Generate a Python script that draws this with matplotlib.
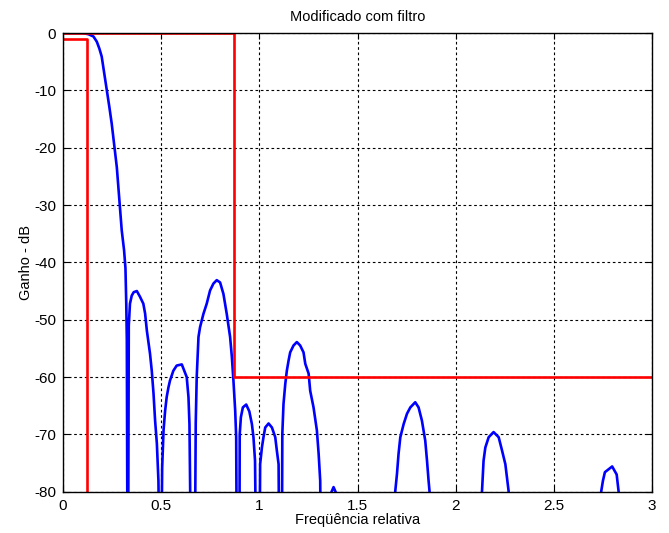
import matplotlib
matplotlib.use('Agg')
import matplotlib.pyplot as plt

# Resposta do filtro (dB); -100 = abaixo da escala
freq = [0.0, 0.05, 0.10, 0.129, 0.155, 0.172, 0.185, 0.197, 0.209, 0.223,
        0.236, 0.248, 0.260, 0.274, 0.287, 0.299, 0.311, 0.318, 0.322, 0.325,
        0.329, 0.331, 0.335, 0.341, 0.350, 0.360, 0.376, 0.392, 0.409, 0.418,
        0.427, 0.443, 0.452, 0.461, 0.469, 0.478, 0.486, 0.494, 0.499, 0.505,
        0.512, 0.520, 0.528, 0.537, 0.545, 0.562, 0.579, 0.605, 0.613, 0.630,
        0.639, 0.644, 0.654, 0.670, 0.676, 0.681, 0.690, 0.698, 0.715, 0.732,
        0.749, 0.766, 0.783, 0.800, 0.817, 0.834, 0.851, 0.860, 0.868, 0.877,
        0.882, 0.886, 0.898, 0.900, 0.906, 0.916, 0.933, 0.949, 0.962, 0.970,
        0.978, 0.986, 1.000, 1.004, 1.013, 1.021, 1.030, 1.047, 1.064, 1.081,
        1.089, 1.098, 1.103, 1.114, 1.117, 1.123, 1.132, 1.140, 1.149, 1.157,
        1.174, 1.191, 1.208, 1.225, 1.234, 1.251, 1.259, 1.276, 1.293, 1.302,
        1.310, 1.315, 1.355, 1.362, 1.378, 1.394, 1.400, 1.689, 1.692, 1.701,
        1.709, 1.718, 1.735, 1.752, 1.769, 1.794, 1.811, 1.828, 1.845, 1.854,
        1.862, 1.867, 1.870, 2.130, 2.134, 2.142, 2.151, 2.168, 2.193, 2.219,
        2.236, 2.253, 2.270, 2.275, 2.737, 2.741, 2.750, 2.760, 2.797, 2.820,
        2.830, 2.834, 3.0]
ganho = [0.0, 0.0, 0.0, -0.2, -0.6, -1.5, -2.7, -4.1, -6.8, -10.0,
         -12.9, -15.8, -19.3, -23.4, -29.2, -34.4, -37.9, -41.0, -47.0, -53.6,
         -100, -100, -51.0, -47.2, -45.8, -45.2, -45.0, -46.0, -47.2, -48.9,
         -51.9, -55.9, -58.9, -62.9, -67.6, -71.6, -78.1, -100, -100, -75.8,
         -69.3, -65.9, -63.5, -61.8, -60.6, -58.9, -58.0, -57.8, -58.5, -60.0,
         -63.5, -68.2, -100, -100, -68.0, -60.0, -53.0, -51.3, -49.0, -47.2,
         -44.9, -43.7, -43.1, -43.5, -45.5, -49.0, -53.0, -56.5, -60.6, -65.9,
         -70.5, -100, -100, -70.0, -67.0, -65.3, -64.8, -66.0, -68.2, -70.5,
         -74.6, -100, -100, -75.2, -72.3, -70.5, -68.8, -68.1, -68.8, -70.5,
         -72.8, -75.2, -100, -100, -69.9, -64.7, -61.2, -58.9, -57.1, -55.7,
         -54.5, -53.9, -54.5, -55.7, -57.7, -59.4, -62.4, -65.3, -69.3, -73.4,
         -78.1, -100, -100, -80.5, -79.2, -80.5, -100, -100, -80.0, -76.9,
         -73.4, -70.5, -68.2, -66.4, -65.3, -64.4, -65.3, -67.6, -71.1, -74.6,
         -78.1, -80.0, -100, -100, -80.0, -74.6, -72.3, -70.5, -69.6, -70.5,
         -72.8, -75.2, -80.0, -100, -100, -80.0, -78.1, -76.6, -75.6, -77.0,
         -80.0, -100, -100]

# Mascara (limites) em vermelho
mask_sup_x = [0.0, 0.87, 0.87, 3.0]
mask_sup_y = [0.0, 0.0, -60.0, -60.0]
mask_inf_x = [0.0, 0.121, 0.121]
mask_inf_y = [-1.0, -1.0, -100.0]

plt.rcParams['font.family'] = ['Liberation Sans', 'DejaVu Sans']
plt.rcParams['font.size'] = 10
plt.rcParams['axes.unicode_minus'] = False

fig = plt.figure(figsize=(6.69, 5.33), dpi=100)
ax = fig.add_axes([0.0942, 0.0775, 0.8804, 0.8605])

ax.plot(freq, ganho, color='#0000ff', lw=1.9)
ax.plot(mask_sup_x, mask_sup_y, color='#ff0000', lw=1.9)
ax.plot(mask_inf_x, mask_inf_y, color='#ff0000', lw=1.9)

ax.set_xlim(0, 3)
ax.set_ylim(-80, 0)
ax.set_xticks([0, 0.5, 1, 1.5, 2, 2.5, 3])
ax.set_xticklabels(['0', '0.5', '1', '1.5', '2', '2.5', '3'])
ax.set_yticks(range(-80, 1, 10))
ax.grid(True, color='black', linestyle=(0, (2.4, 2.4)), lw=0.8)
ax.tick_params(direction='in', length=4, top=True, right=True, labelsize=11, pad=5)
for s in ax.spines.values():
    s.set_linewidth(1.0)

ax.set_title('Modificado com filtro', fontsize=10.5, pad=9)
ax.set_xlabel('Freqüência relativa', fontsize=10.5, labelpad=0)
ax.set_ylabel('Ganho - dB', fontsize=10.5, labelpad=1)

fig.savefig('out.png', dpi=100)
